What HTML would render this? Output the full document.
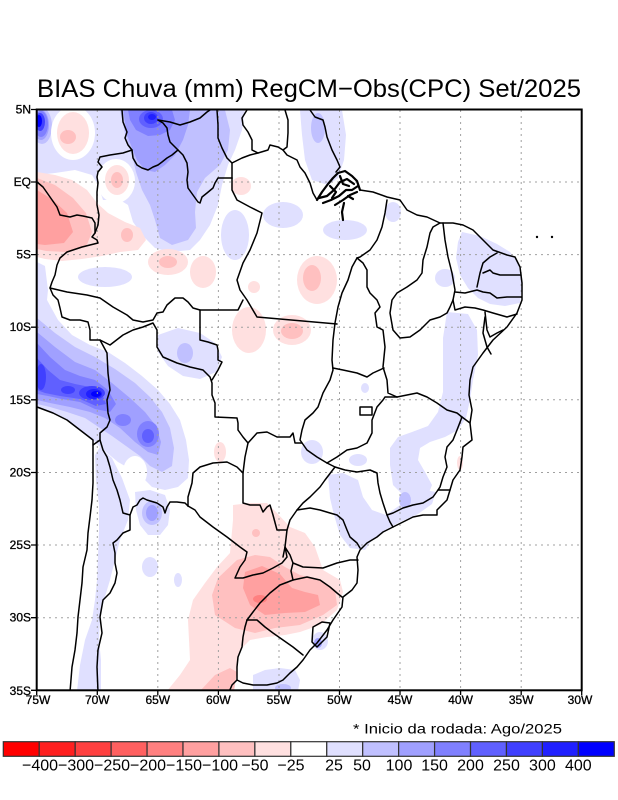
<!DOCTYPE html>
<html><head><meta charset="utf-8">
<style>
html,body{margin:0;padding:0;background:#fff;}
svg{display:block;}
</style></head>
<body>
<svg width="618" height="800" viewBox="0 0 618 800" xmlns="http://www.w3.org/2000/svg" font-family="'Liberation Sans', sans-serif">
<defs><clipPath id="c"><rect x="36.7" y="109.5" width="545" height="580.8"/></clipPath></defs>
<rect width="618" height="800" fill="#fff"/>
<text x="37" y="97" font-size="25" textLength="544" lengthAdjust="spacingAndGlyphs" fill="#000">BIAS Chuva (mm) RegCM−Obs(CPC) Set/2025</text>

<g clip-path="url(#c)">
<!-- light blue -->
<g fill="#e0e0ff">
<polygon points="37,110 245,110 242,130 235,150 228,165 222,185 218,205 210,225 200,240 190,250 170,252 155,248 143,236 133,222 128,205 120,200 103,200 98,185 92,175 75,170 55,173 37,175"/>
<polygon points="300,110 342,110 346,135 344,160 338,178 328,185 312,180 305,160 302,135"/>
<ellipse cx="283" cy="215" rx="20" ry="13"/>
<ellipse cx="345" cy="230" rx="22" ry="10"/>
<ellipse cx="393" cy="212" rx="8" ry="10"/>
<ellipse cx="235" cy="235" rx="14" ry="25"/>
<ellipse cx="105" cy="277" rx="27" ry="10"/>
<ellipse cx="445" cy="278" rx="10" ry="9"/>
<polygon points="462,232 480,236 497,244 510,252 518,262 522,285 520,303 505,306 490,304 478,298 468,288 460,275 456,258 458,242"/>
<polygon points="447,312 468,314 477,330 478,355 473,380 470,400 466,418 458,430 445,437 430,442 420,448 418,460 425,472 432,485 428,495 415,498 402,494 393,485 390,465 390,448 398,437 412,432 428,426 438,412 443,392 443,365 443,338"/>
<polygon points="328,475 343,473 358,480 363,497 372,510 386,515 400,505 412,496 425,490 436,492 432,504 418,514 400,522 385,530 372,540 365,550 350,548 340,535 334,515 330,498"/>
<ellipse cx="312" cy="452" rx="11" ry="12"/>
<ellipse cx="358" cy="460" rx="9" ry="6"/>
<ellipse cx="365" cy="388" rx="4" ry="5"/>
<polygon points="158,335 178,328 200,333 215,343 222,357 216,372 200,379 183,376 168,366 158,352"/>
<polygon points="37,262 45,266 48,290 47,300 58,320 72,335 90,345 108,352 125,363 142,376 158,390 170,404 180,420 186,440 189,460 188,478 178,487 165,490 152,487 143,478 132,470 118,462 106,452 100,447 93,440 80,430 67,420 53,413 37,407"/>
<polygon points="100,447 112,458 122,478 130,500 128,520 120,540 115,560 110,580 104,600 100,620 99,640 101,660 101,691 77,691 80,665 85,640 92,620 95,600 97,580 98,555 99,530 99,505 96,480 95,455"/>
<polygon points="135,492 150,490 165,495 170,510 168,525 160,535 148,535 140,525 136,510"/>
<ellipse cx="150" cy="567" rx="8" ry="10"/>
<ellipse cx="178" cy="580" rx="4" ry="7"/>
<polygon points="253,675 265,670 280,668 295,670 300,680 298,691 253,691"/>
<ellipse cx="320" cy="641" rx="8" ry="9"/>
</g>
<ellipse cx="135" cy="472" rx="12" ry="16" fill="#fff"/>
<!-- blue deeper -->
<g fill="#c0c0ff">
<polygon points="120,110 225,110 230,130 228,150 220,165 205,178 197,192 195,212 196,228 188,240 172,245 160,238 155,220 150,205 142,190 136,172 132,155 126,138"/>
<ellipse cx="318" cy="128" rx="7" ry="15"/>
<ellipse cx="185" cy="353" rx="8" ry="10"/>
<ellipse cx="405" cy="500" rx="6" ry="8"/>
<ellipse cx="42" cy="126" rx="10" ry="18"/>
<polygon points="37,318 55,333 75,347 95,357 115,369 135,383 150,397 162,412 170,428 174,448 172,466 162,472 150,466 140,456 126,446 112,436 100,428 85,418 67,412 50,407 37,404"/>
<ellipse cx="152" cy="513" rx="10" ry="12"/>
<ellipse cx="283" cy="688" rx="8" ry="4"/>
</g>
<g fill="#a0a0ff">
<polygon points="123,110 190,110 188,125 183,140 175,155 165,165 155,172 145,170 137,160 132,148 127,135"/>
<polygon points="37,332 55,347 75,362 95,370 112,383 130,398 145,412 156,426 161,442 158,455 148,452 135,442 120,428 105,418 90,412 70,407 50,403 37,400"/>
<ellipse cx="152" cy="513" rx="6" ry="8"/>
<ellipse cx="318" cy="643" rx="4" ry="5"/>
<ellipse cx="41" cy="125" rx="8" ry="15"/>
</g>
<g fill="#8080ff">
<polygon points="128,110 172,110 175,120 170,130 160,135 148,136 136,130 130,120"/>
<polygon points="37,343 50,357 65,370 80,376 95,380 108,390 116,404 110,412 95,409 80,402 62,399 48,396 37,394"/>
<ellipse cx="148" cy="434" rx="11" ry="13"/>
<ellipse cx="123" cy="420" rx="8" ry="6"/>
<ellipse cx="41" cy="124" rx="7" ry="13"/>
</g>
<g fill="#6060ff">
<ellipse cx="151" cy="119" rx="12" ry="9"/>
<polygon points="37,358 48,370 60,380 75,384 90,387 102,394 106,404 96,406 80,399 60,396 45,393 37,390"/>
<ellipse cx="148" cy="436" rx="6" ry="7"/>
</g>
<g fill="#4040ff">
<ellipse cx="151" cy="118" rx="7" ry="6"/>
<ellipse cx="92" cy="393" rx="13" ry="7"/>
<ellipse cx="41" cy="377" rx="5" ry="13"/>
<ellipse cx="68" cy="390" rx="7" ry="4"/>
<ellipse cx="40" cy="122" rx="5" ry="9"/>
</g>
<ellipse cx="152" cy="117" rx="4" ry="3" fill="#2020ff"/>
<ellipse cx="94" cy="394" rx="8" ry="5" fill="#2020ff"/>
<ellipse cx="96" cy="394" rx="5" ry="3" fill="#0000ff"/>
<ellipse cx="39" cy="121" rx="3" ry="6" fill="#0000ff"/>

<!-- reds -->
<ellipse cx="73" cy="133" rx="22" ry="27" fill="#fff"/>
<ellipse cx="116" cy="181" rx="19" ry="22" fill="#fff"/>
<g fill="#ffe0e0">
<ellipse cx="73" cy="133" rx="16" ry="21"/>
<ellipse cx="117" cy="180" rx="12" ry="15"/>
<polygon points="37,172 55,175 72,180 87,190 97,203 108,213 125,222 140,228 146,240 138,250 120,252 102,256 82,259 62,261 45,259 37,257"/>
<ellipse cx="241" cy="186" rx="10" ry="9"/>
<ellipse cx="168" cy="262" rx="20" ry="13"/>
<ellipse cx="203" cy="272" rx="13" ry="16"/>
<ellipse cx="317" cy="280" rx="20" ry="24"/>
<ellipse cx="292" cy="330" rx="19" ry="15"/>
<ellipse cx="249" cy="330" rx="17" ry="23"/>
<ellipse cx="254" cy="287" rx="6" ry="6"/>
<ellipse cx="220" cy="452" rx="6" ry="10"/>
<ellipse cx="460" cy="463" rx="3" ry="7"/>
<polygon points="167,691 180,675 190,660 188,620 193,600 205,583 217,567 230,553 233,520 233,505 250,503 267,503 277,513 290,527 305,533 315,547 323,570 340,580 343,592 337,610 320,625 300,632 285,635 267,637 250,640 240,650 237,668 233,691"/>
</g>
<g fill="#ffc0c0">
<ellipse cx="68" cy="137" rx="8" ry="7"/>
<ellipse cx="117" cy="180" rx="6" ry="8"/>
<polygon points="37,178 55,185 73,198 86,213 92,232 86,247 66,252 46,251 37,249"/>
<ellipse cx="127" cy="235" rx="6" ry="7"/>
<ellipse cx="168" cy="262" rx="9" ry="6"/>
<ellipse cx="312" cy="278" rx="9" ry="13"/>
<ellipse cx="292" cy="331" rx="11" ry="8"/>
<polygon points="212,595 218,578 237,560 255,555 270,557 285,567 300,575 320,580 335,590 337,605 323,615 300,625 275,628 255,633 235,628 215,615"/>
<ellipse cx="256" cy="533" rx="4" ry="4"/>
<polygon points="200,691 215,675 230,668 237,672 234,691"/>
</g>
<g fill="#ffa0a0">
<polygon points="37,190 53,200 67,213 73,232 64,243 45,245 37,244"/>
<polygon points="245,572 262,566 280,574 292,588 305,592 318,595 320,605 305,612 285,613 265,615 250,605 243,588"/>
</g>
<ellipse cx="260" cy="599" rx="7" ry="4" fill="#ff8080"/>

<!-- grid -->
<g stroke="#a0a0a0" stroke-width="1" stroke-dasharray="2 4" fill="none">
<path d="M97.3,110V690M157.8,110V690M218.4,110V690M279,110V690M339.5,110V690M400,110V690M460.6,110V690M521.2,110V690"/>
<path d="M37,182H581M37,254.6H581M37,327.2H581M37,399.8H581M37,472.5H581M37,545H581M37,617.7H581"/>
</g>

<!-- borders -->
<g stroke="#000" stroke-width="1.5" fill="none" stroke-linejoin="round" stroke-linecap="round">
<path d="M122,110 L123,122 L127,132 L125,138 L128,145 L132,150 L133,158 L137,165 L142,168 L148,170 L153,167 L158,165 L162,162 L167,158 L172,155 L178,150 L183,155 L187,163 L188,172 L187,180 L188,188 L193,195 L198,202 L200,203 L202,197 L207,193 L213,188 L215,183 L218,178 L232,178"/>
<path d="M132,150 L123,153 L110,155 L100,157 L98,162 L102,167 L98,172 L97,177 L98,183 L97,192 L97,205 L99,215 L98,225 L95,233 L92,237 L97,240 L98,243 L82,247 L67,252 L60,258 L57,265 L55,275 L52,282 L50,288 L53,295 L58,300 L60,308 L62,317 L70,320 L80,320 L88,322 L90,330 L90,340 L100,340 L110,345 L123,335 L133,330 L143,327 L153,323 L157,330 L157,347 L163,357 L177,363 L190,367 L203,370 L210,377 L212,383 L212,395 L215,403 L215,417 L237,418 L238,423 L238,430 L243,437 L248,443 L245,457 L243,473 L243,503 L250,505 L260,505 L263,512 L267,507 L270,505 L273,515 L277,530 L287,530 L285,547 L283,557"/>
<path d="M37,182 L43,187 L50,197 L57,207 L60,215 L70,217 L77,215 L83,216 L92,218 L95,223 L95,233"/>
<path d="M50,288 L67,292 L87,295 L100,298 L113,307 L127,315 L133,320 L143,322 L153,320 L157,313 L163,312 L167,305 L175,298 L183,298 L188,302 L193,308 L200,310 L238,310 L243,300"/>
<path d="M200,310 L200,340 L208,342 L217,345 L218,350 L218,360 L222,362 L218,370 L212,380"/>
<path d="M100,340 L107,353 L108,373 L110,390 L107,400 L108,413 L110,420 L107,427 L100,433 L100,440 L103,450 L107,457 L110,467 L113,480 L117,490 L120,500 L123,513 L130,515 L130,530 L123,533 L117,540 L113,543 L115,553 L115,563 L117,573 L115,583 L110,593 L103,600 L100,617 L102,633 L98,650 L97,667 L98,692"/>
<path d="M37,407 L53,413 L67,420 L80,430 L93,440 L93,448 L93,483 L92,500 L90,517 L88,533 L87,550 L83,567 L82,583 L80,600 L78,617 L77,633 L75,650 L72,667 L70,692"/>
<path d="M93,445 L100,440"/>
<path d="M130,515 L133,507 L137,505 L140,500 L143,498 L147,500 L157,503 L163,507 L165,513 L167,507 L170,502 L177,502 L185,503 L188,506"/>
<path d="M188,506 L188,497 L192,483 L193,473 L200,467 L213,463 L227,462 L237,467 L243,473"/>
<path d="M188,506 L195,510 L200,517 L213,527 L227,537 L240,547 L247,552 L245,560 L240,567 L235,578 L243,578 L253,575 L263,573 L273,568 L282,563 L287,557 L285,547"/>
<path d="M285,547 L290,555 L293,563 L291,571 L293,580"/>
<path d="M247,620 L253,612 L260,603 L270,593 L280,585 L293,580 L307,577 L320,580 L330,587 L337,593 L342,597"/>
<path d="M293,563 L303,567 L323,568 L337,563 L350,560 L358,560"/>
<path d="M247,620 L257,620 L265,627 L273,633 L283,640 L293,647 L303,655"/>
<path d="M247,620 L245,627 L243,637 L242,647 L238,657 L237,667 L237,680"/>
<path d="M310,110 L315,117 L323,120 L325,127 L327,137 L332,150 L337,160 L340,167 L336,172"/>
<path d="M360,190 L373,192 L387,197 L400,200 L407,210 L417,215 L427,217 L440,223 L453,223 L463,225 L473,230 L483,240 L493,250 L507,255 L515,257 L520,267 L522,283 L522,300 L517,313 L507,327 L493,340 L483,353 L473,367 L470,380 L469,395 L472,410 L470,423 L472,440 L463,447 L462,457 L460,470 L453,480 L450,490 L447,500 L437,510 L437,515 L423,515 L413,517 L403,522 L393,527 L383,532 L377,537 L367,543 L360,550 L357,557 L358,570 L357,583 L352,590 L343,597 L342,607 L333,620 L327,630 L317,643 L310,650 L303,660 L297,667 L290,673 L283,680 L277,683 L267,685 L253,685 L243,683 L237,680 L232,685 L229,692"/>
<path d="M387,200 L385,213 L382,227 L377,240 L370,250 L360,257 L357,258"/>
<path d="M232,178 L232,190 L237,200 L250,207 L262,213 L257,233 L250,250 L243,263 L237,280 L240,290 L247,300 L257,317 L337,324"/>
<path d="M217,110 L218,125 L218,138 L222,148 L227,158 L232,163 L232,178"/>
<path d="M232,163 L242,158 L250,155 L258,153 L268,150 L270,145 L278,147 L283,150 L287,155 L297,160 L300,167 L305,173 L310,183 L313,193 L317,200"/>
<path d="M247,110 L242,118 L243,125 L248,132 L252,140 L252,150 L258,153"/>
<path d="M285,110 L288,120 L288,133 L287,147 L283,150"/>
<path d="M158,120 L170,122 L180,125 L190,122 L200,118 L207,112 L210,110"/>
<path d="M158,120 L163,123 L167,128 L168,135 L170,142 L175,147 L178,150"/>
<path d="M440,223 L433,227 L430,233 L427,247 L423,260 L422,273 L417,280 L407,287 L397,293 L392,300 L390,313 L393,330 L400,338 L410,337 L420,330 L430,320 L440,317 L447,313 L450,307 L453,300"/>
<path d="M357,258 L363,263 L367,270 L367,287 L370,293 L377,300 L380,307 L375,313 L377,327 L383,330 L385,347 L383,367 L387,380 L388,393 L397,397"/>
<path d="M357,258 L352,267 L348,280 L342,293 L338,307 L335,323 L333,340 L332,360 L333,370 L330,380 L323,393 L318,407 L313,413 L305,420 L302,430 L300,440 L307,450 L317,457 L327,463"/>
<path d="M333,368 L343,370 L357,373 L367,377 L373,373 L384,368"/>
<path d="M443,223 L445,240 L448,257 L452,273 L455,290 L453,300"/>
<path d="M477,287 L480,273 L483,263 L490,257 L497,253"/>
<path d="M483,273 L490,270 L493,273 L500,275 L521,275"/>
<path d="M455,292 L465,293 L477,290 L483,292 L490,293 L497,298 L507,297 L521,297"/>
<path d="M453,300 L455,310 L465,307 L475,308 L483,310 L493,313 L507,317 L517,314"/>
<path d="M485,312 L487,330 L490,337 L497,333 L503,330"/>
<path d="M485,317 L483,333 L487,347 L491,354"/>
<path d="M397,397 L407,395 L417,393 L427,397 L437,403 L447,410 L457,413 L462,417 L470,423"/>
<path d="M462,417 L457,430 L453,440 L447,447 L445,457 L447,467 L443,477 L440,487 L438,490 L450,490"/>
<path d="M438,490 L433,497 L423,503 L413,505 L403,508 L393,513 L387,515 L390,522 L393,527"/>
<path d="M387,515 L383,503 L380,493 L378,483 L377,473 L370,470 L357,472 L345,470 L335,467 L327,463"/>
<path d="M397,397 L385,397 L383,400 L377,407 L372,420 L372,433 L367,443 L357,448 L347,450 L337,457 L327,463"/>
<path d="M335,467 L325,480 L320,487 L310,497 L303,503 L297,510 L290,520 L287,530"/>
<path d="M297,510 L310,508 L320,510 L330,513 L337,515 L343,520 L347,530 L350,537 L357,543 L360,548"/>
<path d="M248,443 L257,433 L267,432 L277,437 L290,437 L293,433 L295,443 L302,443"/>
<rect x="360" y="407" width="12" height="8"/>
<path d="M313,627 L322,622 L330,623 L327,637 L317,647 L312,642 Z"/>
</g>
<!-- Amazon delta -->
<g stroke="#000" stroke-width="2.2" fill="none" stroke-linejoin="round" stroke-linecap="round">
<path d="M317,200 L322,192 L328,184 L333,178 L338,173 L345,171 L352,176 L357,181 L360,190"/>
<path d="M319,198 L327,196 L334,190 L340,182 L347,179 L354,184"/>
<path d="M323,203 L331,200 L339,196 L346,190 L352,190 L358,186"/>
<path d="M335,205 L343,200 L350,195 L357,192"/>
<path d="M344,203 L342,212 L343,220"/>
<path d="M330,186 L336,192 L332,198"/>
<path d="M340,176 L343,184 L349,186"/>
<path d="M348,196 L353,199"/>
</g>
<circle cx="537" cy="237" r="1.2" fill="#000"/>
<circle cx="552" cy="237" r="1.2" fill="#000"/>
</g>

<!-- frame -->
<rect x="36.7" y="109.5" width="545" height="580.8" fill="none" stroke="#000" stroke-width="2"/>
<g stroke="#000" stroke-width="1.3">
<path d="M31,109.5H36.7M31,182H36.7M31,254.6H36.7M31,327.2H36.7M31,399.8H36.7M31,472.5H36.7M31,545H36.7M31,617.7H36.7M31,690.3H36.7"/>
<path d="M36.7,690V695M97.3,690V695M157.8,690V695M218.4,690V695M279,690V695M339.5,690V695M400,690V695M460.6,690V695M521.2,690V695M581.7,690V695"/>
</g>
<g font-size="12" fill="#000" stroke="#000" stroke-width="0.3" text-anchor="end">
<text x="31" y="113.5">5N</text>
<text x="31" y="186">EQ</text>
<text x="31" y="258.6">5S</text>
<text x="31" y="331.2">10S</text>
<text x="31" y="403.8">15S</text>
<text x="31" y="476.5">20S</text>
<text x="31" y="549">25S</text>
<text x="31" y="621.7">30S</text>
<text x="31" y="695">35S</text>
</g>
<g font-size="12" fill="#000" stroke="#000" stroke-width="0.3" text-anchor="middle">
<text x="38" y="704">75W</text>
<text x="97.3" y="704">70W</text>
<text x="157.8" y="704">65W</text>
<text x="218.4" y="704">60W</text>
<text x="279" y="704">55W</text>
<text x="339.5" y="704">50W</text>
<text x="400" y="704">45W</text>
<text x="460.6" y="704">40W</text>
<text x="521.2" y="704">35W</text>
<text x="580" y="704">30W</text>
</g>

<text x="353" y="733.3" font-size="14" textLength="209" lengthAdjust="spacingAndGlyphs" fill="#000">* Inicio da rodada: Ago/2025</text>

<!-- colorbar -->
<g stroke="#333" stroke-width="1.2">
<rect x="3.3" y="741.7" width="35.94" height="14.6" fill="#ff0000"/>
<rect x="39.24" y="741.7" width="35.94" height="14.6" fill="#ff2020"/>
<rect x="75.18" y="741.7" width="35.94" height="14.6" fill="#ff4040"/>
<rect x="111.12" y="741.7" width="35.94" height="14.6" fill="#ff6060"/>
<rect x="147.06" y="741.7" width="35.94" height="14.6" fill="#ff8080"/>
<rect x="183" y="741.7" width="35.94" height="14.6" fill="#ffa0a0"/>
<rect x="218.94" y="741.7" width="35.94" height="14.6" fill="#ffc0c0"/>
<rect x="254.88" y="741.7" width="35.94" height="14.6" fill="#ffe0e0"/>
<rect x="290.82" y="741.7" width="35.94" height="14.6" fill="#ffffff"/>
<rect x="326.76" y="741.7" width="35.94" height="14.6" fill="#e0e0ff"/>
<rect x="362.7" y="741.7" width="35.94" height="14.6" fill="#c0c0ff"/>
<rect x="398.64" y="741.7" width="35.94" height="14.6" fill="#a0a0ff"/>
<rect x="434.58" y="741.7" width="35.94" height="14.6" fill="#8080ff"/>
<rect x="470.52" y="741.7" width="35.94" height="14.6" fill="#6060ff"/>
<rect x="506.46" y="741.7" width="35.94" height="14.6" fill="#4040ff"/>
<rect x="542.4" y="741.7" width="35.94" height="14.6" fill="#2020ff"/>
<rect x="578.34" y="741.7" width="35.94" height="14.6" fill="#0000ff"/>
</g>
<g font-size="16" fill="#000" text-anchor="middle">
<text x="40" y="770.5">−400</text>
<text x="76" y="770.5">−300</text>
<text x="112" y="770.5">−250</text>
<text x="148" y="770.5">−200</text>
<text x="184" y="770.5">−150</text>
<text x="220" y="770.5">−100</text>
<text x="255" y="770.5">−50</text>
<text x="291" y="770.5">−25</text>
<text x="334" y="770.5">25</text>
<text x="362" y="770.5">50</text>
<text x="399" y="770.5">100</text>
<text x="434.6" y="770.5">150</text>
<text x="470.5" y="770.5">200</text>
<text x="506.5" y="770.5">250</text>
<text x="542.4" y="770.5">300</text>
<text x="578.3" y="770.5">400</text>
</g>
</svg>
</body></html>
